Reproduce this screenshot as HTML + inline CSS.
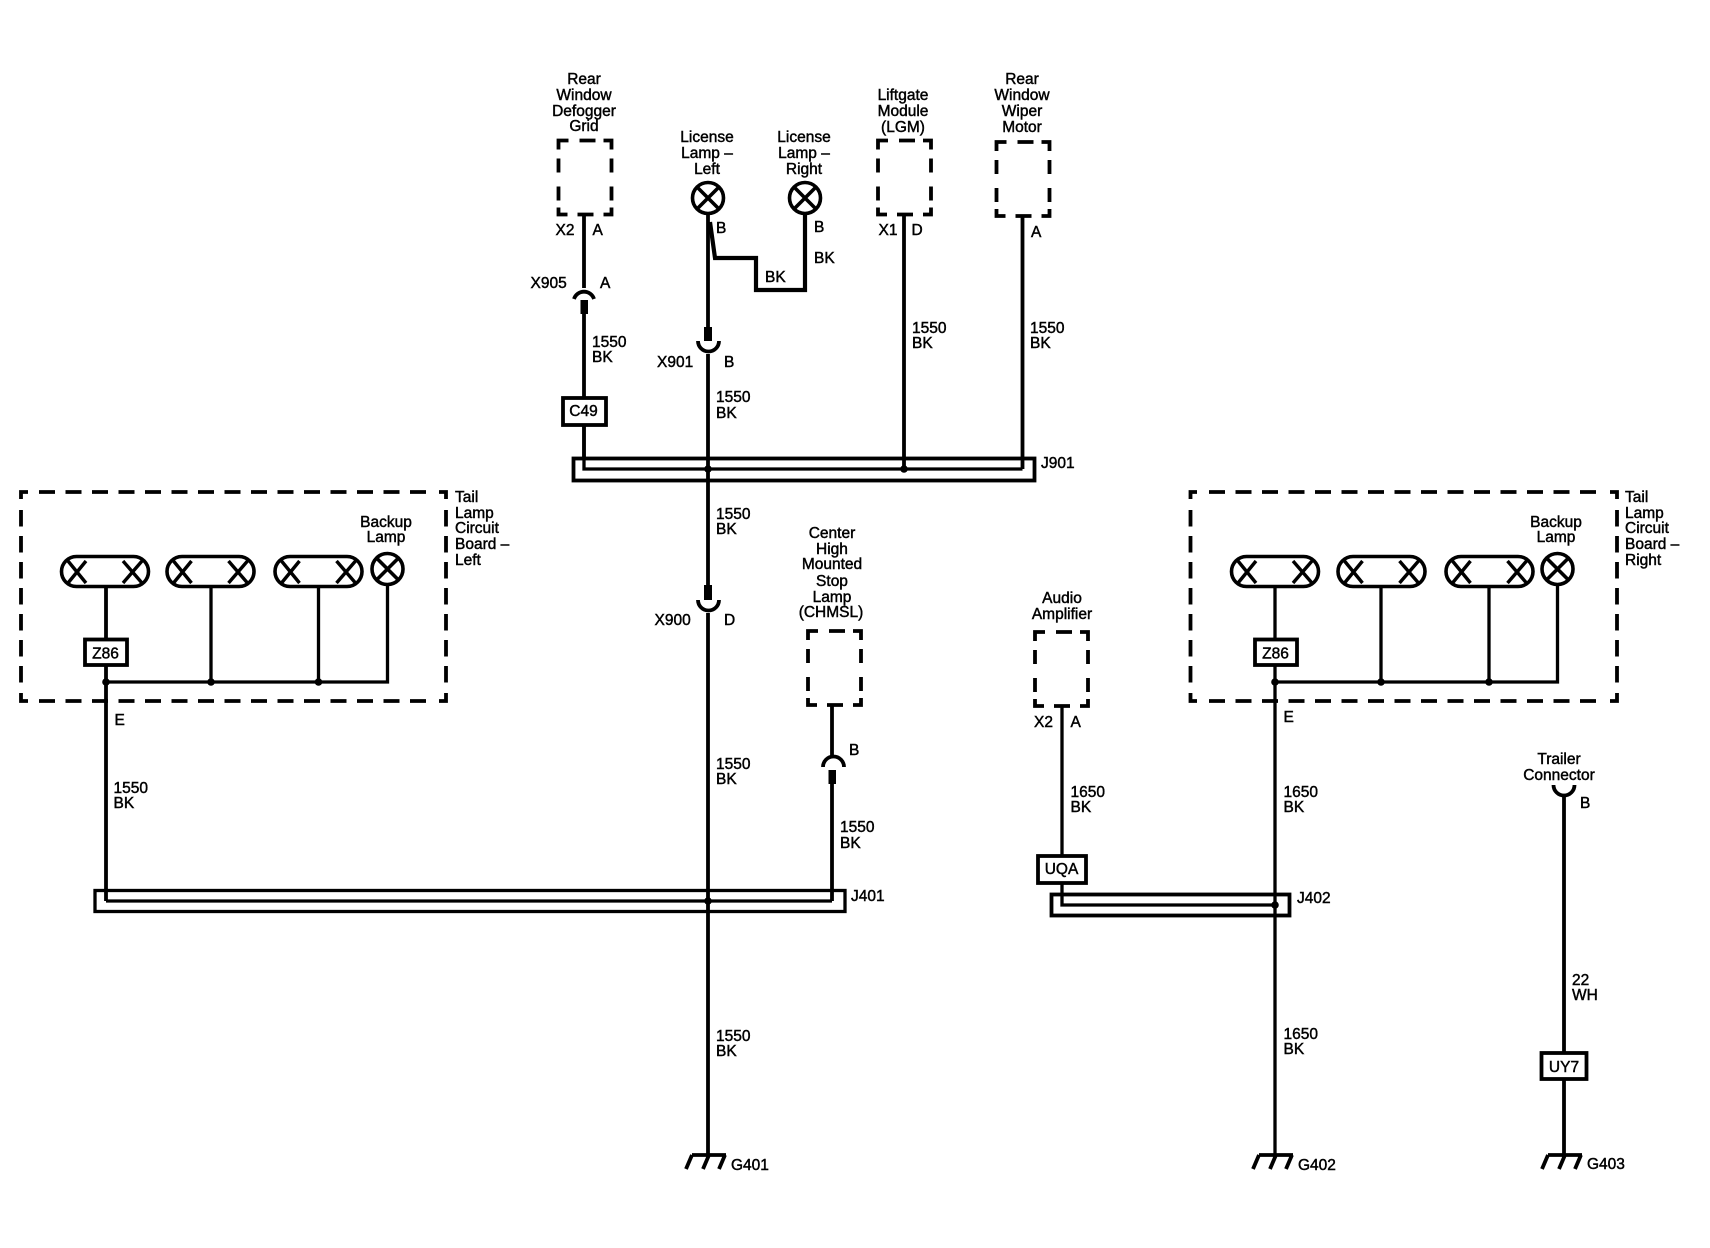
<!DOCTYPE html>
<html><head><meta charset="utf-8"><style>
html,body{margin:0;padding:0;background:#fff}
svg{display:block}
text{font-family:"Liberation Sans",sans-serif;font-size:15.5px;fill:#000;stroke:#000;stroke-width:.45}
.m{text-anchor:middle}
.w{fill:none;stroke:#000;stroke-width:3.8}
.t{fill:none;stroke:#000;stroke-width:3.3}
</style></head><body>
<svg width="1710" height="1248" viewBox="0 0 1710 1248" xmlns="http://www.w3.org/2000/svg">
<defs>
<path id="db" fill="none" stroke="#000" stroke-width="3.8" d="M10,0H0V9M21,0H37M45,0H53V9M0,18V32M53,18V32M0,46V60M53,46V60M0,67V74H9M19,74H35M45,74H53V67"/>
<g id="pill" fill="none" stroke="#000">
<rect x="1.5" y="1.5" width="87" height="30" rx="15" stroke-width="3.6"/>
<path stroke-width="3.4" d="M8,6L26,28M26,6L8,28M63,6L82,28M82,6L63,28"/>
</g>
<g id="lamp" fill="none" stroke="#000" stroke-width="3.6">
<circle r="15.5"/><path d="M-11,-11L11,11M11,-11L-11,11"/>
</g>
<path id="gnd" fill="none" stroke="#000" stroke-width="3.8" d="M-16,0H18M-16,0L-22,14M1,0L-5,14M17,0L11,14"/>
</defs>

<!-- top boxes -->
<use href="#db" x="558.5" y="140.5"/>
<use href="#db" x="878" y="140.5"/>
<use href="#db" x="996.5" y="142"/>
<use href="#db" x="808" y="631"/>
<use href="#db" x="1035" y="632"/>

<!-- defogger wire -->
<path class="w" d="M584,214V288M584,300V457"/>
<rect x="580.5" y="300" width="7.5" height="14"/>
<path class="w" d="M574,299A10.5,10.5 0 0 1 594,299"/>
<rect x="563" y="398" width="43" height="27" fill="#fff" stroke="#000" stroke-width="3.8"/>

<!-- license lamps -->
<use href="#lamp" x="708" y="198"/>
<use href="#lamp" x="805" y="198"/>
<path class="w" d="M708,214V340M708,354V585M708,613V1155"/>
<rect x="704" y="327" width="8" height="14"/>
<path class="w" d="M698,341A10.5,10.5 0 0 0 719,341"/>
<rect x="704" y="585" width="8" height="15"/>
<path class="w" d="M698,600A10.5,10.5 0 0 0 719,600"/>
<path fill="none" stroke="#000" stroke-width="4.2" d="M710,222L715,258H756V290H805V214"/>

<!-- wires to J901 -->
<path class="w" d="M904,214V469M1022.5,215V469"/>
<rect x="573.5" y="458.5" width="461" height="22" fill="none" stroke="#000" stroke-width="3.8"/>
<path class="t" d="M584,425V469H1022.5"/>
<circle cx="708" cy="469" r="3.8"/><circle cx="904" cy="469" r="3.8"/>

<!-- CHMSL -->
<path class="w" d="M832,705V757M832,770V901"/>
<rect x="828.5" y="770" width="7.5" height="14"/>
<path class="w" d="M823,767A10.5,10.5 0 0 1 844,767"/>

<!-- J401 -->
<rect x="95" y="890.5" width="750" height="21" fill="none" stroke="#000" stroke-width="3.3"/>
<path class="t" d="M106,901H832"/>
<circle cx="708" cy="901" r="3.8"/>

<!-- left tail lamp box -->
<g fill="none" stroke="#000" stroke-width="3.8">
<path d="M28,492H21V499M439,492H446V499M21,693V701H28M446,693V701H439"/>
<path d="M39,492H430" stroke-dasharray="16 10.5"/>
<path d="M39,701H430" stroke-dasharray="16 10.5"/>
<path d="M21,510V684" stroke-dasharray="16.5 9.5"/>
<path d="M446,510V684" stroke-dasharray="16.5 9.5"/>
</g>
<use href="#pill" x="60" y="555"/>
<use href="#pill" x="165.5" y="555"/>
<use href="#pill" x="273.5" y="555"/>
<use href="#lamp" x="387.5" y="569"/>
<path class="w" d="M106,587V901"/>
<path class="t" d="M211,587V682M318.5,587V682M387.5,584V682H106"/>
<circle cx="106" cy="682" r="3.8"/><circle cx="211" cy="682" r="3.8"/><circle cx="318.5" cy="682" r="3.8"/>
<rect x="85" y="639.5" width="42" height="25.5" fill="#fff" stroke="#000" stroke-width="3.8"/>

<!-- right tail lamp box -->
<g fill="none" stroke="#000" stroke-width="3.8">
<path d="M1197,492H1190.5V499M1610,492H1617V499M1190.5,693V701H1197M1617,693V701H1610"/>
<path d="M1209,492H1602" stroke-dasharray="16 10.5"/>
<path d="M1209,701H1602" stroke-dasharray="16 10.5"/>
<path d="M1190.5,510V684" stroke-dasharray="16.5 9.5"/>
<path d="M1617,510V684" stroke-dasharray="16.5 9.5"/>
</g>
<use href="#pill" x="1230" y="555"/>
<use href="#pill" x="1336.5" y="555"/>
<use href="#pill" x="1444.5" y="555"/>
<use href="#lamp" x="1557.5" y="569"/>
<path class="t" d="M1275,587V1155M1381,587V682M1489,587V682M1557.5,584V682H1275"/>
<circle cx="1275" cy="682" r="3.8"/><circle cx="1381" cy="682" r="3.8"/><circle cx="1489" cy="682" r="3.8"/>
<rect x="1255" y="639.5" width="42" height="25.5" fill="#fff" stroke="#000" stroke-width="3.8"/>

<!-- audio -->
<path class="t" d="M1062,706V856M1062,884V905H1275"/>
<rect x="1038" y="856" width="48" height="27" fill="#fff" stroke="#000" stroke-width="3.8"/>
<rect x="1051.5" y="894.5" width="238" height="21" fill="none" stroke="#000" stroke-width="3.8"/>
<circle cx="1275" cy="905" r="3.8"/>

<!-- trailer -->
<path class="w" d="M1564,796V1155"/>
<path class="w" d="M1553.5,785A10.5,10.5 0 0 0 1574.5,785"/>
<rect x="1541.5" y="1053" width="45" height="26" fill="#fff" stroke="#000" stroke-width="3.8"/>

<!-- grounds -->
<use href="#gnd" x="708" y="1155"/>
<use href="#gnd" x="1275" y="1155"/>
<use href="#gnd" x="1564" y="1155"/>

<!-- labels -->
<text class="m" x="584" y="84">Rear</text><text class="m" x="584" y="100">Window</text><text class="m" x="584" y="116">Defogger</text><text class="m" x="584" y="131">Grid</text>
<text class="m" x="707" y="142">License</text><text class="m" x="707" y="158">Lamp –</text><text class="m" x="707" y="174">Left</text>
<text class="m" x="804" y="142">License</text><text class="m" x="804" y="158">Lamp –</text><text class="m" x="804" y="174">Right</text>
<text class="m" x="903" y="100">Liftgate</text><text class="m" x="903" y="116">Module</text><text class="m" x="903" y="132">(LGM)</text>
<text class="m" x="1022" y="84">Rear</text><text class="m" x="1022" y="100">Window</text><text class="m" x="1022" y="116">Wiper</text><text class="m" x="1022" y="132">Motor</text>
<text x="555.5" y="235">X2</text><text x="592.5" y="235">A</text>
<text x="530.5" y="288">X905</text><text x="600" y="288">A</text>
<text x="592" y="347">1550</text><text x="592" y="362">BK</text>
<text x="716" y="233">B</text><text x="814" y="232">B</text><text x="814" y="263">BK</text><text x="765" y="282">BK</text>
<text x="878.5" y="235">X1</text><text x="911.5" y="235">D</text>
<text x="912" y="333">1550</text><text x="912" y="348">BK</text>
<text x="1031" y="237">A</text>
<text x="1030" y="333">1550</text><text x="1030" y="348">BK</text>
<text x="657" y="367">X901</text><text x="724" y="367">B</text>
<text x="716" y="402">1550</text><text x="716" y="418">BK</text>
<text class="m" x="583.5" y="416">C49</text>
<text x="1041" y="468">J901</text>
<text x="716" y="519">1550</text><text x="716" y="534">BK</text>
<text x="654.5" y="625">X900</text><text x="724" y="625">D</text>
<text class="m" x="832" y="538">Center</text><text class="m" x="832" y="554">High</text><text class="m" x="832" y="569">Mounted</text><text class="m" x="832" y="586">Stop</text><text class="m" x="832" y="602">Lamp</text><text class="m" x="831" y="617">(CHMSL)</text>
<text x="849" y="755">B</text>
<text x="840" y="832">1550</text><text x="840" y="848">BK</text>
<text x="716" y="769">1550</text><text x="716" y="784">BK</text>
<text x="851" y="901">J401</text>
<text x="716" y="1041">1550</text><text x="716" y="1056">BK</text>
<text x="731" y="1170">G401</text>
<text x="455" y="502">Tail</text><text x="455" y="518">Lamp</text><text x="455" y="533">Circuit</text><text x="455" y="549">Board –</text><text x="455" y="565">Left</text>
<text class="m" x="386" y="527">Backup</text><text class="m" x="386" y="542">Lamp</text>
<text class="m" x="105.5" y="658.5" style="font-size:15.5px">Z86</text>
<text x="114.5" y="725">E</text>
<text x="113.5" y="793">1550</text><text x="113.5" y="808">BK</text>
<text x="1625" y="502">Tail</text><text x="1625" y="518">Lamp</text><text x="1625" y="533">Circuit</text><text x="1625" y="549">Board –</text><text x="1625" y="565">Right</text>
<text class="m" x="1556" y="527">Backup</text><text class="m" x="1556" y="542">Lamp</text>
<text class="m" x="1275.5" y="658.5" style="font-size:15.5px">Z86</text>
<text x="1283.5" y="722">E</text>
<text x="1283.5" y="797">1650</text><text x="1283.5" y="812">BK</text>
<text class="m" x="1062" y="603">Audio</text><text class="m" x="1062" y="619">Amplifier</text>
<text x="1034" y="727">X2</text><text x="1070.5" y="727">A</text>
<text x="1070.5" y="797">1650</text><text x="1070.5" y="812">BK</text>
<text class="m" x="1061.5" y="874">UQA</text>
<text x="1297" y="903">J402</text>
<text x="1283.5" y="1039">1650</text><text x="1283.5" y="1054">BK</text>
<text x="1298" y="1170">G402</text>
<text class="m" x="1559" y="764">Trailer</text><text class="m" x="1559" y="780">Connector</text>
<text x="1580" y="808">B</text>
<text x="1572" y="985">22</text><text x="1572" y="1000">WH</text>
<text class="m" x="1564" y="1072">UY7</text>
<text x="1587" y="1169">G403</text>
</svg>
</body></html>
